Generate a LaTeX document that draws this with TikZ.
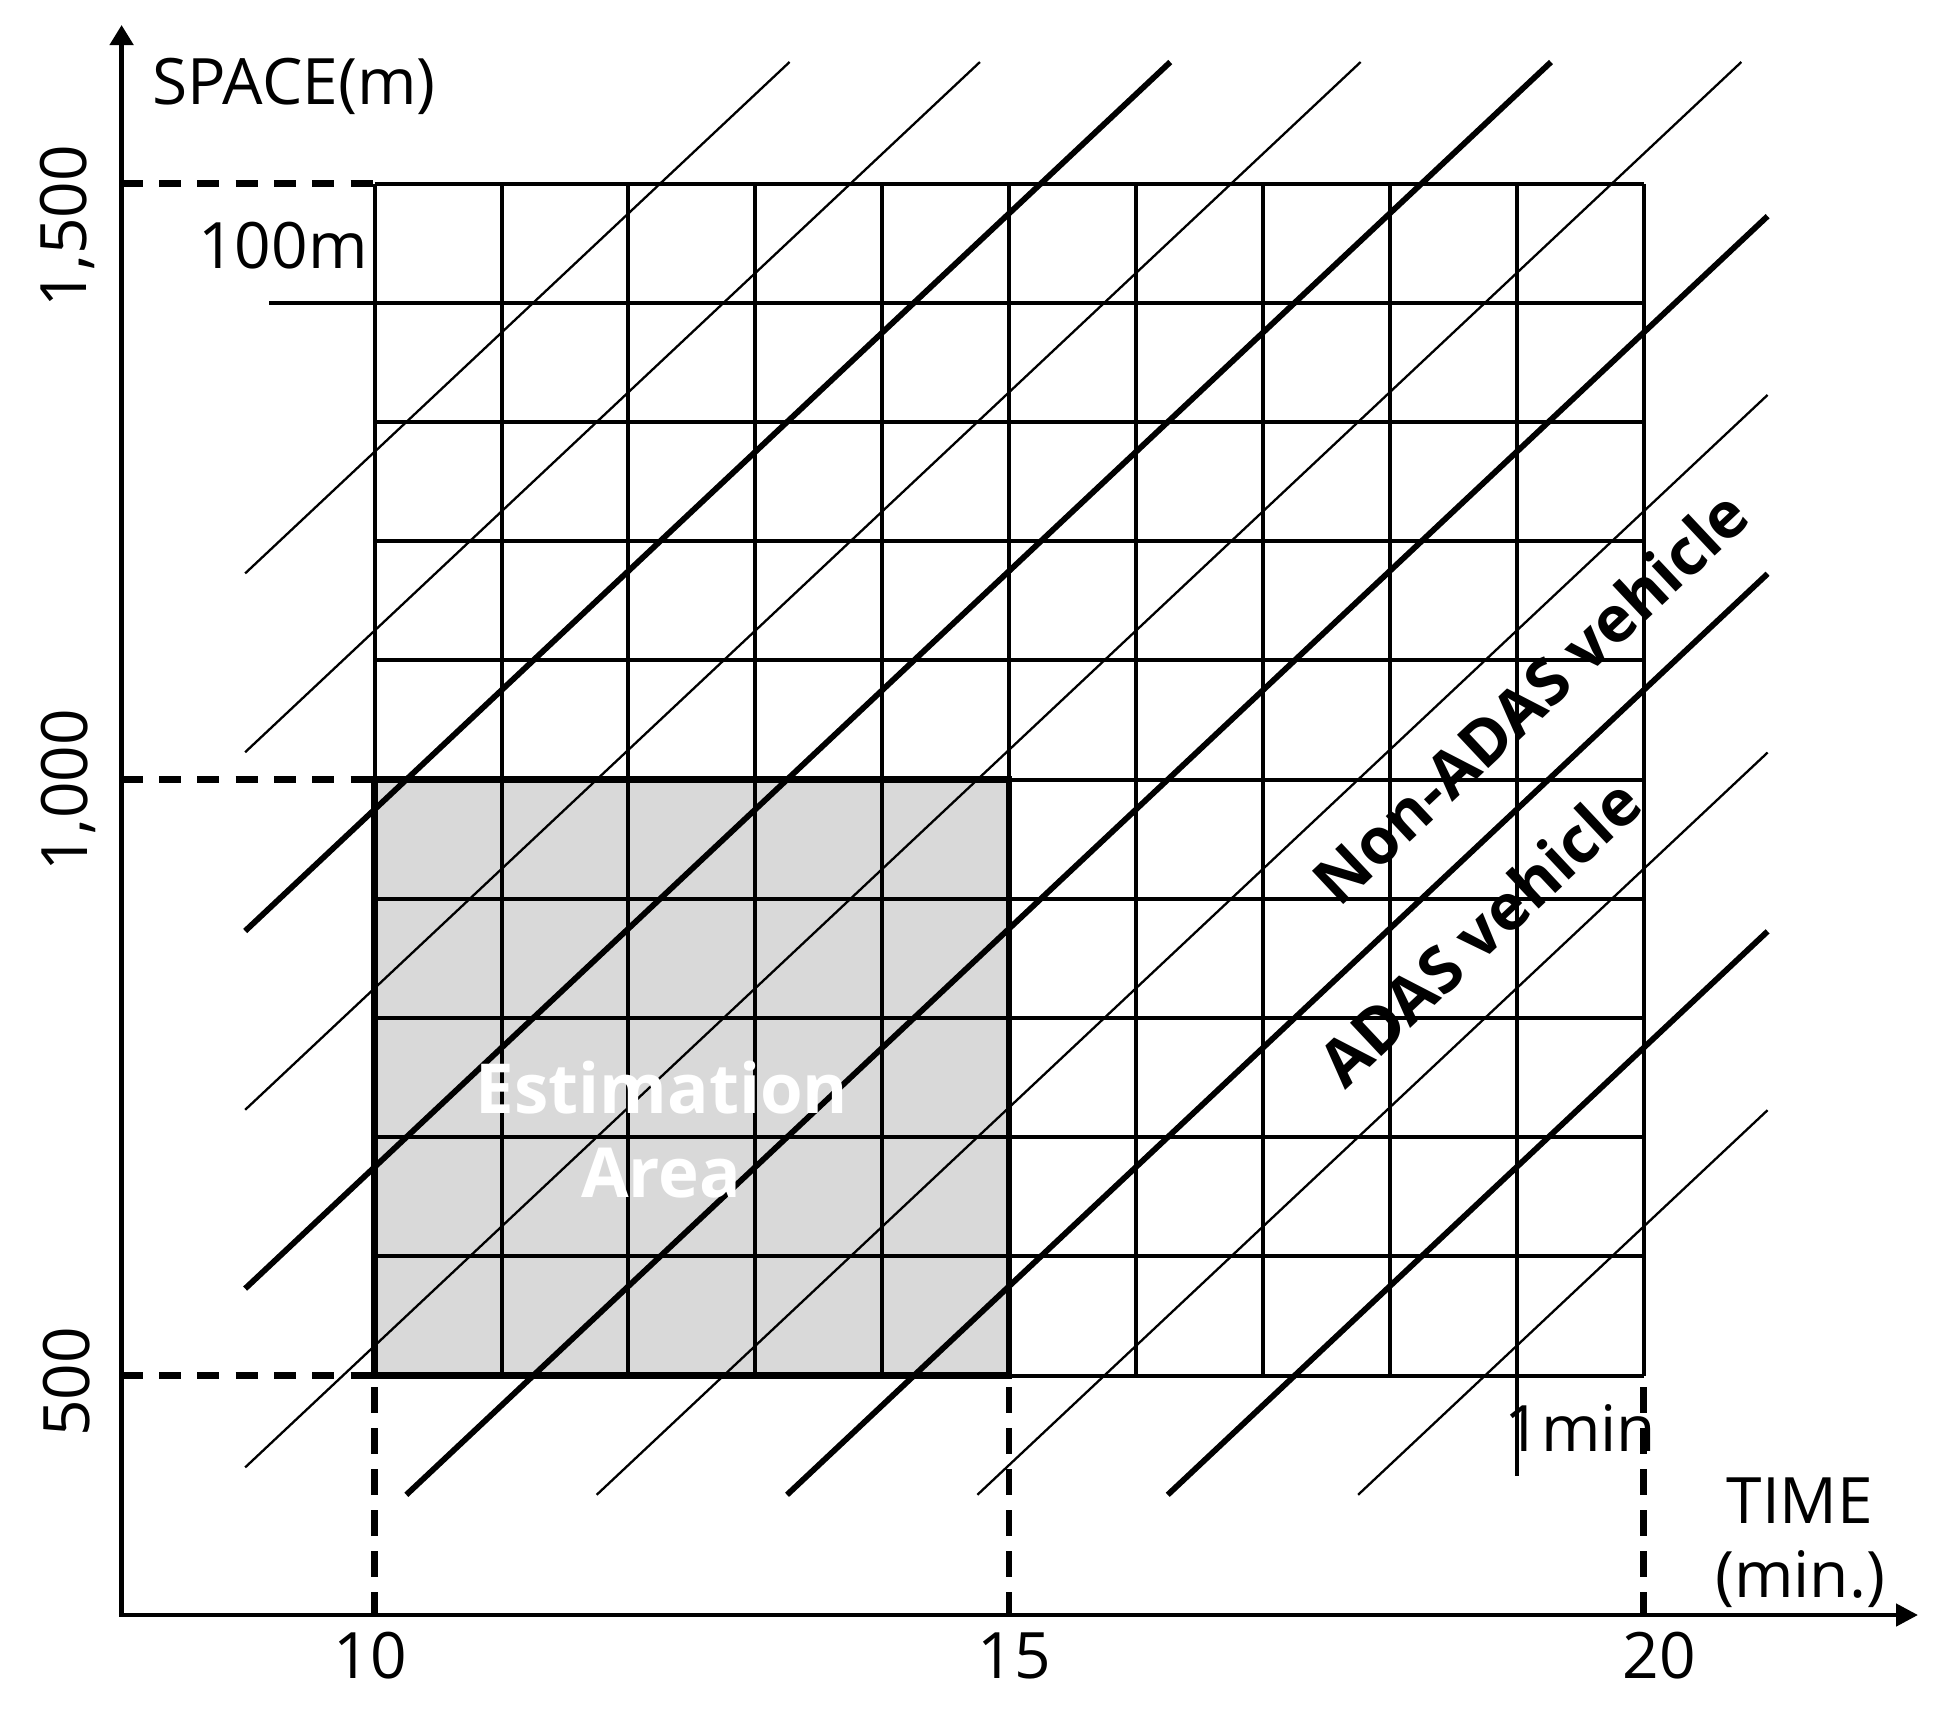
\documentclass[tikz,border=0pt]{standalone}
\usepackage{fontspec}
\setmainfont{Open Sans}
\usetikzlibrary{arrows.meta}
\definecolor{estgray}{RGB}{217,217,217}
\begin{document}
\begin{tikzpicture}[x=0.5pt,y=-0.5pt,
  lbl/.style={inner sep=0pt, font=\fontsize{32}{38}\selectfont},
  vlbl/.style={inner sep=0pt, font=\fontsize{32}{38}\selectfont\bfseries, rotate=43.2},
  estlbl/.style={inner sep=0pt, text=white, font=\fontsize{34.5}{40}\selectfont\bfseries},
  gridline/.style={line width=2pt},
  thinveh/.style={line width=1.15pt},
  thickveh/.style={line width=2.9pt},
  hdash/.style={line width=3.2pt, dash pattern=on 11pt off 8.15pt},
  vdash/.style={line width=3.2pt, dash pattern=on 12.75pt off 7.75pt},
  estborder/.style={line width=3.3pt},
  axisline/.style={line width=2.3pt, line join=miter}
]
\useasboundingbox (0,0) rectangle (1945,1709);

% data scope: u = t-10 (minutes), v = s-500 (metres)
\begin{scope}[shift={(187.3pt,-687.8pt)}, x=63.45pt, y=0.596pt]
  \fill[estgray] (0,0) rectangle (5,500);
  \foreach \i in {0,...,10} \draw[gridline] (\i,0) -- (\i,1000);
  \foreach \j in {0,...,10} \draw[gridline] (0,\j*100) -- (10,\j*100);
  % scale ticks
  \draw[gridline] (-0.83,900) -- (0,900);
  \draw[gridline] (9,0) -- (9,-84);
  % dashed reference lines
  \foreach \v in {0,500,1000} \draw[hdash] (-2,\v) -- (0,\v);
  \foreach \u in {0,5,10} \draw[vdash] (\u,-9.56) -- (\u,-200);
  % vehicle trajectories
  \foreach \k/\w in {775/thinveh, 625/thinveh, 475/thickveh, 325/thinveh, 175/thickveh, 25/thinveh, -125/thickveh, -275/thinveh, -425/thickveh, -575/thinveh, -725/thickveh, -875/thinveh} {
    \pgfmathsetmacro\ua{max(-1.02,(-100-\k)/100)}
    \pgfmathsetmacro\ub{min(10.977,(1102-\k)/100)}
    \draw[\w] (\ua,{\k+100*\ua}) -- (\ub,{\k+100*\ub});
  }
  \draw[estborder] (0,0) rectangle (5,500);
\end{scope}

% axes
\coordinate (O) at (121.6,1615);
\coordinate (Ytip) at (121.6,25);
\coordinate (Xtip) at (1918,1615);
\draw[axisline, {Triangle[length=10pt,width=11.5pt]}-{Triangle[length=11pt,width=11pt]}] (Ytip) -- (O) -- (Xtip);

% labels
\node[lbl, anchor=base west] (space) at (152,104) {SPACE(m)};
\node[lbl, anchor=base east] (hundred) at (368,268) {100m};
\node[lbl, rotate=90] (l1500) at (67,226) {1,500};
\node[lbl, rotate=90] (l1000) at (68,790) {1,000};
\node[lbl, rotate=90] (l500) at (67,1382) {500};
\node[lbl] (t10) at (370,1656) {10};
\node[lbl] (t15) at (1014,1656) {15};
\node[lbl] (t20) at (1659,1656) {20};
\node[lbl, anchor=base] (time) at (1800,1523) {TIME};
\node[lbl, anchor=base] (minu) at (1800,1597) {(min.)};
\node[lbl, anchor=base west] (onemin) at (1504,1451) {1min};
\node[estlbl, anchor=base] (est1) at (662,1113) {Estimation};
\node[estlbl, anchor=base] (est2) at (661,1197) {Area};
\node[vlbl] (nonadas) at (1530,697) {Non-ADAS vehicle};
\node[vlbl] (adas) at (1479,932) {ADAS vehicle};
\end{tikzpicture}
\end{document}
